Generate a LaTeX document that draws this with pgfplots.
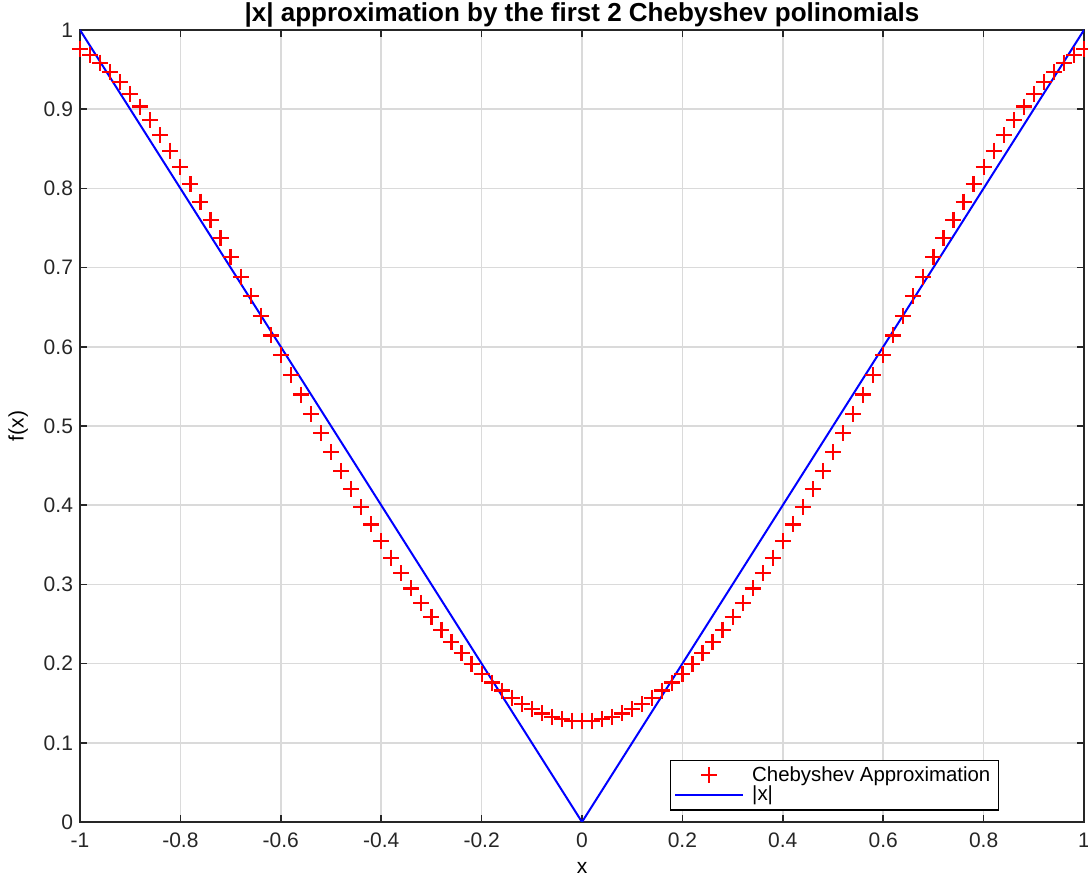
\documentclass[border=0pt]{standalone}
\usepackage{fontspec}
\setmainfont{Liberation Sans}
\usepackage{pgfplots}
\pgfplotsset{compat=1.18}
\usepackage{pgfplotstable}

\definecolor{axgray}{RGB}{38,38,38}
\definecolor{gridgray}{RGB}{218,218,218}

\pgfplotsset{
    markleg/.style={legend image code/.code={\draw[mark repeat=2,mark phase=2,##1]
        plot coordinates {(1pt,0pt) (18pt,0pt) (35pt,0pt)};}},
    lineleg/.style={legend image code/.code={\draw[##1] (1pt,0pt) -- (35pt,0pt);}},
}

% Chebyshev approximation samples, step 0.02
\pgfplotstableread{
x y
-1.00 0.9762
-0.98 0.9684
-0.96 0.9587
-0.94 0.9472
-0.92 0.9341
-0.90 0.9194
-0.88 0.9033
-0.86 0.8859
-0.84 0.8673
-0.82 0.8477
-0.80 0.8270
-0.78 0.8055
-0.76 0.7833
-0.74 0.7604
-0.72 0.7369
-0.70 0.7129
-0.68 0.6886
-0.66 0.6640
-0.64 0.6392
-0.62 0.6143
-0.60 0.5894
-0.58 0.5645
-0.56 0.5397
-0.54 0.5151
-0.52 0.4908
-0.50 0.4669
-0.48 0.4433
-0.46 0.4202
-0.44 0.3977
-0.42 0.3757
-0.40 0.3544
-0.38 0.3338
-0.36 0.3139
-0.34 0.2949
-0.32 0.2767
-0.30 0.2593
-0.28 0.2429
-0.26 0.2275
-0.24 0.2131
-0.22 0.1997
-0.20 0.1873
-0.18 0.1761
-0.16 0.1660
-0.14 0.1570
-0.12 0.1492
-0.10 0.1425
-0.08 0.1371
-0.06 0.1328
-0.04 0.1298
-0.02 0.1279
0.00 0.1273
0.02 0.1279
0.04 0.1298
0.06 0.1328
0.08 0.1371
0.10 0.1425
0.12 0.1492
0.14 0.1570
0.16 0.1660
0.18 0.1761
0.20 0.1873
0.22 0.1997
0.24 0.2131
0.26 0.2275
0.28 0.2429
0.30 0.2593
0.32 0.2767
0.34 0.2949
0.36 0.3139
0.38 0.3338
0.40 0.3544
0.42 0.3757
0.44 0.3977
0.46 0.4202
0.48 0.4433
0.50 0.4669
0.52 0.4908
0.54 0.5151
0.56 0.5397
0.58 0.5645
0.60 0.5894
0.62 0.6143
0.64 0.6392
0.66 0.6640
0.68 0.6886
0.70 0.7129
0.72 0.7369
0.74 0.7604
0.76 0.7833
0.78 0.8055
0.80 0.8270
0.82 0.8477
0.84 0.8673
0.86 0.8859
0.88 0.9033
0.90 0.9194
0.92 0.9341
0.94 0.9472
0.96 0.9587
0.98 0.9684
1.00 0.9762
}\chebdata

\begin{document}
\begin{tikzpicture}[font=\fontsize{10.5}{12}\selectfont]
\begin{axis}[
    scale only axis,
    width=502pt, height=396pt,
    xmin=-1, xmax=1, ymin=0, ymax=1,
    xtick={-1,-0.8,...,1},
    ytick={0,0.1,...,1},
    /pgf/number format/assume math mode=true,
    /pgf/number format/fixed,
    tick label style={text=axgray},
    xticklabel style={yshift=-2pt, inner xsep=0pt},
    tick align=inside,
    major tick length=3.5pt,
    tick style={axgray, line width=0.8pt},
    axis line style={axgray, line width=0.8pt},
    grid=major,
    major grid style={gridgray, line width=0.8pt},
    title={\bfseries |x| approximation by the first 2 Chebyshev polinomials},
    title style={font=\fontsize{13}{14}\selectfont, inner sep=1pt, yshift=-6pt},
    xlabel={x}, ylabel={f(x)},
    xlabel style={yshift=-0.5pt},
    ylabel style={yshift=1pt},
    legend style={at={(0.9153,0.0145)}, anchor=south east,
        draw=black, line width=0.6pt, inner xsep=2pt, inner ysep=1pt,
        row sep=-3pt, column sep=2pt, font=\fontsize{10.2}{11}\selectfont},
    legend cell align=left,
]
\addplot[only marks, mark=+, mark size=4pt, red, line width=1.1pt, markleg]
    table {\chebdata};
\addlegendentry{Chebyshev Approximation}
\addplot[blue, line width=1pt, lineleg]
    coordinates {(-1,1) (0,0) (1,1)};
\addlegendentry{|x|}
\end{axis}
\pgfresetboundingbox
\path ([shift={(-40pt,-27.25pt)}]current axis.south west)
    rectangle ([shift={(2pt,15pt)}]current axis.north east);
\end{tikzpicture}
\end{document}
